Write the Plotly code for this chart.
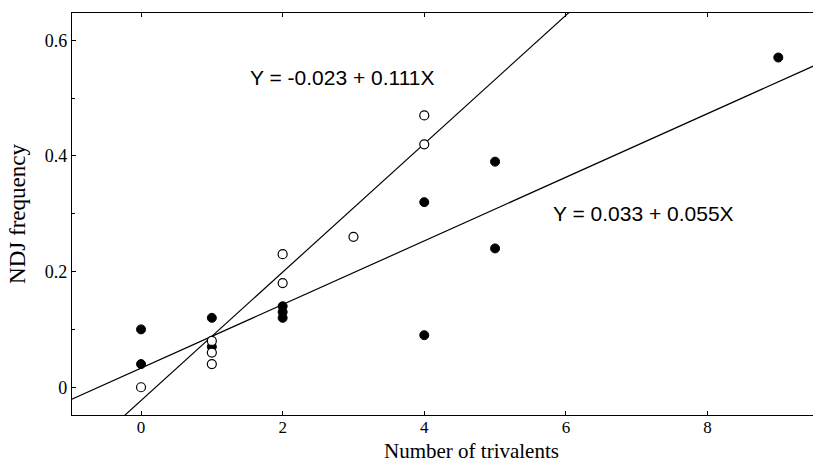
import plotly.graph_objects as go

# Filled circles
filled_x = [0, 0, 1, 1, 2, 2, 2, 4, 4, 5, 5, 9]
filled_y = [0.10, 0.04, 0.12, 0.07, 0.14, 0.13, 0.12, 0.32, 0.09, 0.39, 0.24, 0.57]
# Open circles
open_x = [0, 1, 1, 1, 2, 2, 3, 4, 4]
open_y = [0.00, 0.08, 0.06, 0.04, 0.23, 0.18, 0.26, 0.47, 0.42]

# Regression lines (intercept, slope)
fit_open = (-0.023, 0.111)
fit_filled = (0.033, 0.055)
line_x = [-1.5, 10.5]

x_range = [-0.975, 9.49]
y_range = [-0.048, 0.647]

fig = go.Figure()
for a, b in (fit_open, fit_filled):
    fig.add_trace(go.Scatter(x=line_x, y=[a + b * v for v in line_x], mode="lines",
                             line=dict(color="black", width=1.2), showlegend=False,
                             hoverinfo="skip"))
fig.add_trace(go.Scatter(x=filled_x, y=filled_y, mode="markers",
                         marker=dict(size=9, color="black", line=dict(color="black", width=1)),
                         showlegend=False))
fig.add_trace(go.Scatter(x=open_x, y=open_y, mode="markers",
                         marker=dict(size=9, color="white", line=dict(color="black", width=1.2)),
                         showlegend=False))

serif = "Liberation Serif, Times New Roman, serif"
sans = "Liberation Sans, Arial, sans-serif"

fig.update_layout(
    width=813, height=464,
    margin=dict(l=72, r=0, t=13, b=49),
    plot_bgcolor="white", paper_bgcolor="white",
    font=dict(family=serif, color="black", size=17),
)
fig.update_xaxes(range=x_range, tickvals=[0, 2, 4, 6, 8], ticks="inside", ticklen=4,
                 tickcolor="black", showline=True, linecolor="black", linewidth=1.2,
                 mirror="ticks", showgrid=False, zeroline=False, ticklabelstandoff=-4,
                 tickfont=dict(family=serif, size=17))
fig.update_yaxes(range=y_range, tickvals=[0, 0.2, 0.4, 0.6], ticktext=["0", "0.2", "0.4", "0.6"],
                 ticks="inside", ticklen=4, tickcolor="black",
                 minor=dict(dtick=0.1, tick0=0, ticks="inside", ticklen=3, tickcolor="black"),
                 showline=True, linecolor="black", linewidth=1.2, showgrid=False, zeroline=False,
                 tickfont=dict(family=serif, size=18),
                 title=dict(text="NDJ frequency", font=dict(family=serif, size=23), standoff=12))

fig.add_annotation(text="Y = -0.023 + 0.111X", x=2.84, y=0.535, xref="x", yref="y",
                   showarrow=False, font=dict(family=sans, size=21, color="black"))
fig.add_annotation(text="Y = 0.033 + 0.055X", x=7.09, y=0.301, xref="x", yref="y",
                   showarrow=False, font=dict(family=sans, size=21, color="black"))
fig.add_annotation(text="Number of trivalents", x=0.5385, y=-0.1219, xref="paper", yref="paper",
                   xanchor="center", yanchor="bottom", borderpad=0,
                   showarrow=False, font=dict(family=serif, size=21, color="black"))

fig.write_html("out.html", config={"displayModeBar": False},
               post_script="document.body.style.margin='0';document.body.style.overflow='hidden';")
